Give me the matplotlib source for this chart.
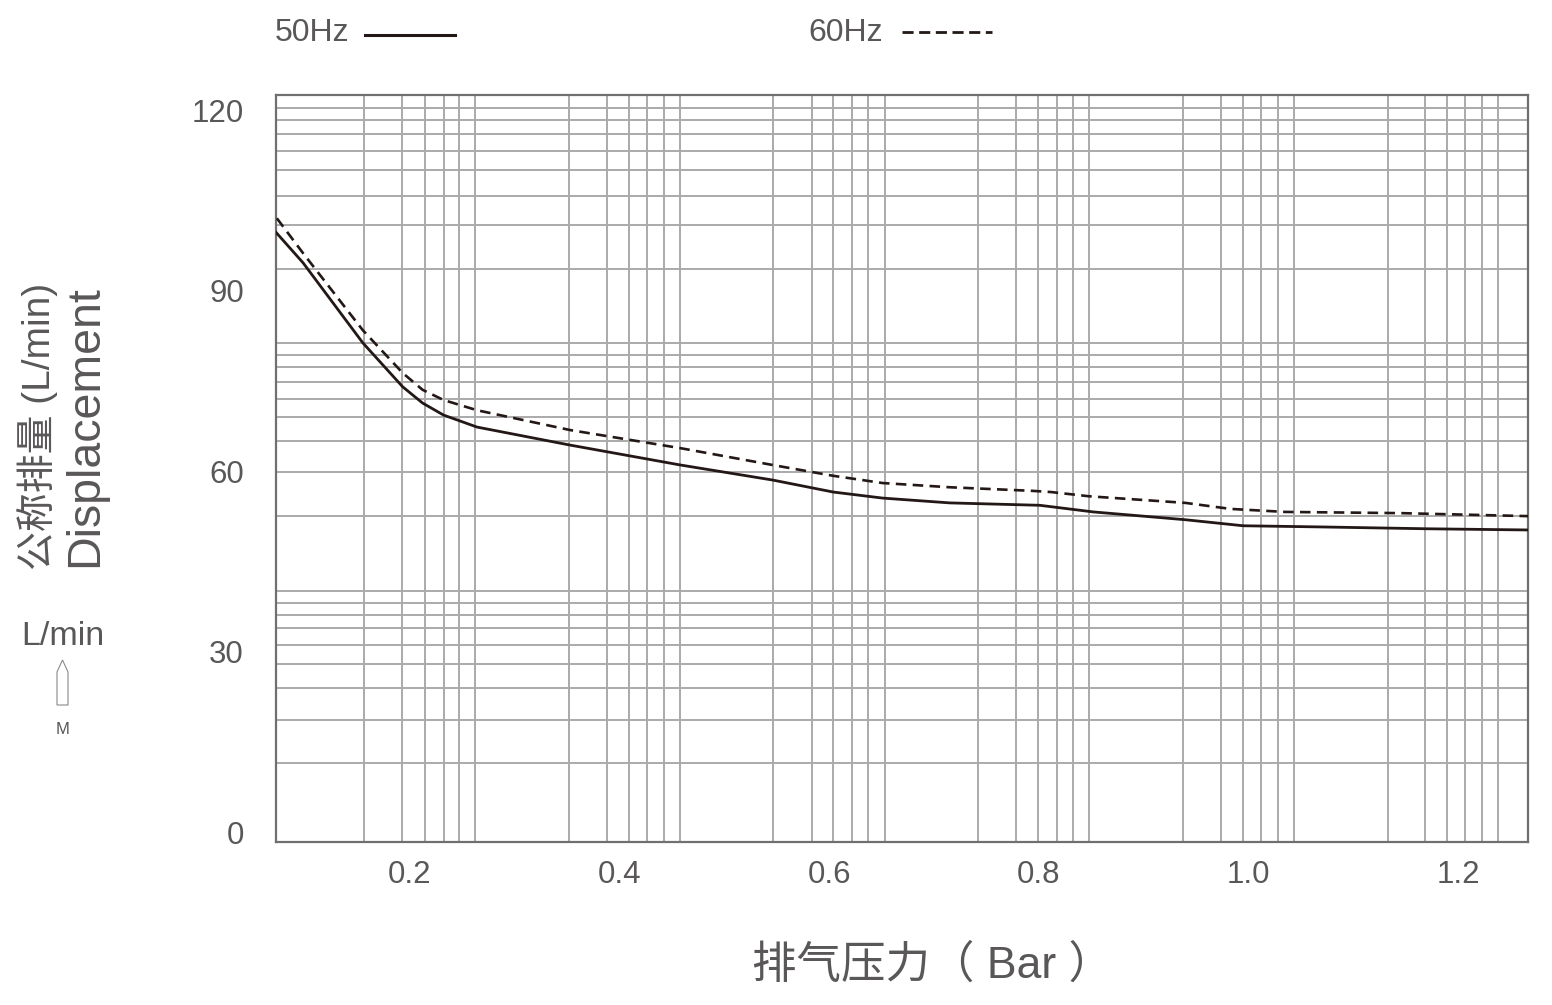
import matplotlib
matplotlib.use("Agg")
import matplotlib.pyplot as plt
from matplotlib.lines import Line2D
from matplotlib.patches import Polygon

plt.rcParams['font.family'] = ['Liberation Sans', 'Noto Sans CJK SC']

# curve readings (pressure in bar, displacement in L/min)
p50 = [0.072, 0.098, 0.155, 0.193, 0.212, 0.232, 0.264, 0.353, 0.388, 0.458, 0.546,
       0.604, 0.651, 0.715, 0.801, 0.852, 0.940, 0.995, 1.071, 1.170, 1.267]
q50 = [99.7, 94.6, 81.3, 74.0, 71.3, 69.3, 67.3, 64.3, 63.2, 61.0, 58.5,
       56.5, 55.5, 54.7, 54.3, 53.2, 51.9, 50.9, 50.7, 50.4, 50.2]
p60 = [0.073, 0.098, 0.155, 0.193, 0.212, 0.232, 0.264, 0.353, 0.388, 0.458, 0.546,
       0.604, 0.651, 0.715, 0.794, 0.812, 0.848, 0.940, 0.983, 1.035, 1.145, 1.267]
q60 = [102.0, 96.2, 83.4, 76.3, 73.5, 71.8, 70.1, 66.8, 65.8, 63.8, 61.0,
       59.2, 58.0, 57.3, 56.7, 56.5, 55.8, 54.7, 53.7, 53.2, 53.0, 52.5]

xticks = [0.2, 0.4, 0.6, 0.8, 1.0, 1.2]
xtick_labels = ['0.2', '0.4', '0.6', '0.8', '1.0', '1.2']
yticks = [0, 30, 60, 90, 120]

# the printed grid paper (not regular spacing)
vgrid = [0.156, 0.192, 0.214, 0.232, 0.247, 0.262,
         0.352, 0.388, 0.409, 0.426, 0.442, 0.458,
         0.546, 0.584, 0.604, 0.622, 0.637, 0.653,
         0.742, 0.778, 0.799, 0.817, 0.833, 0.848,
         0.938, 0.974, 0.995, 1.012, 1.028, 1.044,
         1.133, 1.169, 1.190, 1.207, 1.223, 1.238]
hgrid = [11.47, 18.61, 23.93, 27.92, 31.08, 33.90, 36.06, 38.06, 40.05,
         52.52, 59.83, 64.98, 68.97, 71.96, 74.79, 77.28, 79.27, 81.27,
         93.57, 100.88, 105.70, 110.02, 113.18, 116.01, 118.33, 120.33]

txt = '#595757'
line_col = '#231815'
grid_col = '#aaaaaa'

fig = plt.figure(figsize=(15.52, 10.05), dpi=100)
ax = fig.add_axes([0.1778, 0.1622, 0.8067, 0.7433])

for v in vgrid:
    ax.axvline(v, color=grid_col, lw=1.4, zorder=1)
for h in hgrid:
    ax.axhline(h, color=grid_col, lw=1.4, zorder=1)

ax.plot(p50, q50, color=line_col, lw=2.0, zorder=3)
ax.plot(p60, q60, color=line_col, lw=1.9, ls=(0, (4, 2.4)), zorder=3)

ax.set_xlim(0.0721, 1.2668)
ax.set_ylim(-1.66, 122.5)
ax.set_xticks(xticks)
ax.set_xticklabels(xtick_labels)
ax.set_yticks(yticks)
ax.tick_params(axis='both', length=0, labelsize=22.5, labelcolor=txt)
ax.tick_params(axis='y', pad=23)
ax.tick_params(axis='x', pad=13)
for s in ax.spines.values():
    s.set_color('#6f6f6f')
    s.set_linewidth(1.6)

# axis titles
fig.text(0.601, 0.039, '排气压力（ Bar ）', fontsize=32, color=txt, ha='center', va='center')
fig.text(0.0245, 0.576, '公称排量 (L/min)', fontsize=28, color=txt, rotation=90,
         ha='center', va='center')
fig.text(0.0548, 0.576, 'Displacement', fontsize=33.5, color=txt, rotation=90,
         ha='center', va='center')
fig.text(0.0406, 0.367, 'L/min', fontsize=24.5, color=txt, ha='center', va='center')
fig.text(0.0406, 0.274, 'M', fontsize=12, color=txt, ha='center', va='center')
arrow = Polygon([(57 / 1552, 1 - 705 / 1005), (68 / 1552, 1 - 705 / 1005),
                 (68 / 1552, 1 - 672 / 1005), (62.5 / 1552, 1 - 660 / 1005),
                 (57 / 1552, 1 - 672 / 1005)],
                closed=True, fill=False, edgecolor='#8a8a8a', lw=0.8,
                transform=fig.transFigure)
fig.patches.append(arrow)

# legend along the top
fig.text(0.1772, 0.967, '50Hz', fontsize=23, color=txt, ha='left', va='center')
fig.lines.append(Line2D([365 / 1552, 455 / 1552], [0.965, 0.965], color=line_col,
                        lw=2.2, transform=fig.transFigure))
fig.text(0.5206, 0.967, '60Hz', fontsize=23, color=txt, ha='left', va='center')
fig.lines.append(Line2D([902 / 1552, 992 / 1552], [0.968, 0.968], color=line_col,
                        lw=2.0, ls=(0, (4, 2.0)), transform=fig.transFigure))

fig.savefig('out.png', dpi=100, facecolor='white')
